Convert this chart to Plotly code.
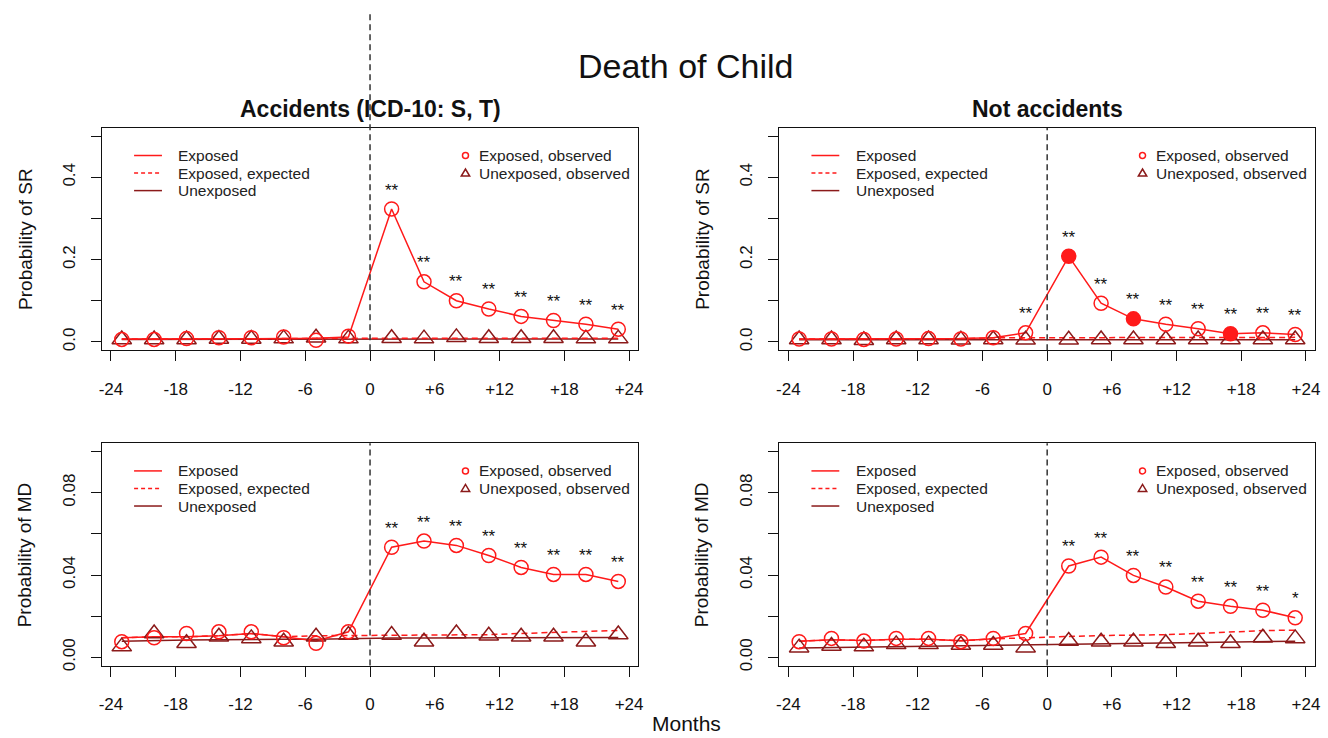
import plotly.graph_objects as go

# ---------------- data ----------------
months = [-23, -20, -17, -14, -11, -8, -5, -2, 2, 5, 8, 11, 14, 17, 20, 23]
tick_vals = [-24, -18, -12, -6, 0, 6, 12, 18, 24]
tick_text = ["-24", "-18", "-12", "-6", "0", "+6", "+12", "+18", "+24"]

# Suicide risk (SR), accidents
sr_acc_exp_obs = [0.006, 0.006, 0.008, 0.010, 0.010, 0.012, 0.004, 0.014,
                  0.323, 0.146, 0.100, 0.080, 0.062, 0.052, 0.043, 0.031]
sr_acc_unexp_obs = [0.006, 0.006, 0.006, 0.007, 0.007, 0.008, 0.010, 0.008,
                    0.009, 0.008, 0.011, 0.009, 0.009, 0.009, 0.008, 0.008]
sr_acc_exp_fit = [0.007, 0.007, 0.007, 0.008, 0.008, 0.008, 0.009, 0.012,
                  0.323, 0.146, 0.100, 0.080, 0.062, 0.052, 0.043, 0.031]
sr_acc_exp_expected = [0.007, 0.007, 0.007, 0.008, 0.008, 0.008, 0.009, 0.009,
                       0.009, 0.009, 0.009, 0.009, 0.009, 0.009, 0.009, 0.009]
sr_acc_unexp_fit = [0.006, 0.006, 0.006, 0.006, 0.007, 0.007, 0.007, 0.007,
                    0.007, 0.007, 0.007, 0.007, 0.007, 0.007, 0.007, 0.007]
sr_acc_filled = [False] * 16
sr_acc_stars = [""] * 8 + ["**"] * 8

# SR, not accidents
sr_nac_exp_obs = [0.007, 0.007, 0.006, 0.007, 0.008, 0.007, 0.010, 0.022,
                  0.208, 0.094, 0.056, 0.043, 0.032, 0.020, 0.022, 0.018]
sr_nac_unexp_obs = [0.006, 0.006, 0.004, 0.006, 0.006, 0.005, 0.006, 0.005,
                    0.005, 0.006, 0.006, 0.006, 0.006, 0.006, 0.006, 0.006]
sr_nac_exp_fit = [0.007, 0.007, 0.007, 0.007, 0.008, 0.008, 0.010, 0.022,
                  0.208, 0.094, 0.056, 0.043, 0.032, 0.020, 0.022, 0.018]
sr_nac_exp_expected = [0.007, 0.007, 0.007, 0.007, 0.008, 0.008, 0.010, 0.010,
                       0.010, 0.010, 0.010, 0.010, 0.011, 0.011, 0.011, 0.011]
sr_nac_unexp_fit = [0.005, 0.005, 0.005, 0.005, 0.005, 0.005, 0.005, 0.005,
                    0.005, 0.005, 0.005, 0.005, 0.005, 0.005, 0.005, 0.005]
sr_nac_filled = [False] * 8 + [True, False, True, False, False, True, False, False]
sr_nac_stars = [""] * 7 + ["**"] * 9

# Mental disorder (MD), accidents
md_acc_exp_obs = [0.0076, 0.0095, 0.0116, 0.0124, 0.0124, 0.0095, 0.0068, 0.0124,
                  0.0535, 0.0565, 0.0544, 0.0495, 0.0437, 0.0403, 0.0403, 0.0369]
md_acc_unexp_obs = [0.0052, 0.0116, 0.0068, 0.0100, 0.0092, 0.0076, 0.0100, 0.0108,
                    0.0108, 0.0076, 0.0116, 0.0105, 0.0100, 0.0100, 0.0076, 0.0111]
md_acc_exp_fit = [0.0095, 0.0100, 0.0100, 0.0105, 0.0116, 0.0100, 0.0079, 0.0124,
                  0.0535, 0.0565, 0.0544, 0.0495, 0.0437, 0.0403, 0.0403, 0.0369]
md_acc_exp_expected = [0.0095, 0.0100, 0.0100, 0.0105, 0.0116, 0.0100, 0.0105, 0.0106,
                       0.0108, 0.0108, 0.0108, 0.0110, 0.0116, 0.0122, 0.0126, 0.0130]
md_acc_unexp_fit = [0.0078, 0.0082, 0.0084, 0.0086, 0.0088, 0.0088, 0.0088, 0.0092,
                    0.0094, 0.0094, 0.0094, 0.0095, 0.0095, 0.0095, 0.0095, 0.0096]
md_acc_filled = [False] * 16
md_acc_stars = [""] * 8 + ["**"] * 8

# MD, not accidents
md_nac_exp_obs = [0.0076, 0.0092, 0.0079, 0.0092, 0.0092, 0.0076, 0.0092, 0.0116,
                  0.0444, 0.0487, 0.0398, 0.0342, 0.0273, 0.0248, 0.0229, 0.0192]
md_nac_unexp_obs = [0.0047, 0.0055, 0.0052, 0.0063, 0.0063, 0.0060, 0.0060, 0.0047,
                    0.0079, 0.0076, 0.0076, 0.0068, 0.0076, 0.0068, 0.0095, 0.0092]
md_nac_exp_fit = [0.0078, 0.0085, 0.0082, 0.0088, 0.0088, 0.0080, 0.0090, 0.0116,
                  0.0444, 0.0487, 0.0398, 0.0342, 0.0273, 0.0248, 0.0229, 0.0192]
md_nac_exp_expected = [0.0078, 0.0085, 0.0082, 0.0088, 0.0088, 0.0080, 0.0090, 0.0095,
                       0.0100, 0.0106, 0.0108, 0.0110, 0.0116, 0.0122, 0.0130, 0.0132]
md_nac_unexp_fit = [0.0045, 0.0047, 0.0049, 0.0051, 0.0053, 0.0055, 0.0057, 0.0059,
                    0.0062, 0.0064, 0.0066, 0.0068, 0.0070, 0.0072, 0.0075, 0.0078]
md_nac_filled = [False] * 16
md_nac_stars = [""] * 8 + ["**"] * 7 + ["*"]

panels = [
    dict(exp_obs=sr_acc_exp_obs, unexp_obs=sr_acc_unexp_obs, exp_fit=sr_acc_exp_fit,
         expected=sr_acc_exp_expected, unexp_fit=sr_acc_unexp_fit, filled=sr_acc_filled,
         stars=sr_acc_stars),
    dict(exp_obs=sr_nac_exp_obs, unexp_obs=sr_nac_unexp_obs, exp_fit=sr_nac_exp_fit,
         expected=sr_nac_exp_expected, unexp_fit=sr_nac_unexp_fit, filled=sr_nac_filled,
         stars=sr_nac_stars),
    dict(exp_obs=md_acc_exp_obs, unexp_obs=md_acc_unexp_obs, exp_fit=md_acc_exp_fit,
         expected=md_acc_exp_expected, unexp_fit=md_acc_unexp_fit, filled=md_acc_filled,
         stars=md_acc_stars),
    dict(exp_obs=md_nac_exp_obs, unexp_obs=md_nac_unexp_obs, exp_fit=md_nac_exp_fit,
         expected=md_nac_exp_expected, unexp_fit=md_nac_unexp_fit, filled=md_nac_filled,
         stars=md_nac_stars),
]

sr_ticks = [0.0, 0.1, 0.2, 0.3, 0.4, 0.5]
sr_ticktext = ["0.0", "", "0.2", "", "0.4", ""]
md_ticks = [0.0, 0.02, 0.04, 0.06, 0.08, 0.10]
md_ticktext = ["0.00", "", "0.04", "", "0.08", ""]

# ---------------- style ----------------
W, H = 1328, 738
FONT = "Liberation Sans, Arial, sans-serif"
RED = "#FF1A1A"
DARK = "#8B1A1A"
LW = 1.5

fig = go.Figure()

def px_x(p):
    return p / W

def px_y(p):
    return 1 - p / H

x_domains = [(px_x(99.5), px_x(639)), (px_x(781), px_x(1320))]
y_domains = [(px_y(353), px_y(129)), (px_y(671), px_y(447))]

for i, p in enumerate(panels):
    n = i + 1
    xa = "x" if n == 1 else f"x{n}"
    ya = "y" if n == 1 else f"y{n}"
    fig.add_trace(go.Scatter(x=months, y=p["unexp_fit"], mode="lines",
                             line=dict(color=DARK, width=LW), xaxis=xa, yaxis=ya,
                             showlegend=False, hoverinfo="skip"))
    fig.add_trace(go.Scatter(x=months, y=p["expected"], mode="lines",
                             line=dict(color=RED, width=LW, dash="6px,4px"),
                             xaxis=xa, yaxis=ya, showlegend=False, hoverinfo="skip"))
    fig.add_trace(go.Scatter(x=months, y=p["exp_fit"], mode="lines",
                             line=dict(color=RED, width=LW), xaxis=xa, yaxis=ya,
                             showlegend=False, hoverinfo="skip"))
    fig.add_trace(go.Scatter(x=months, y=p["unexp_obs"], mode="markers",
                             marker=dict(symbol="triangle-up-open", size=17, color=DARK,
                                         line=dict(width=LW, color=DARK)),
                             xaxis=xa, yaxis=ya, showlegend=False))
    symbols = ["circle" if f else "circle-open" for f in p["filled"]]
    fig.add_trace(go.Scatter(x=months, y=p["exp_obs"], mode="markers",
                             marker=dict(symbol=symbols, size=14, color=RED,
                                         line=dict(width=LW, color=RED)),
                             xaxis=xa, yaxis=ya, showlegend=False))
    for m, v, s in zip(months, p["exp_obs"], p["stars"]):
        if s:
            fig.add_annotation(x=m, y=v, xref=xa, yref=ya, text=s, showarrow=False,
                               yshift=19, yanchor="middle",
                               font=dict(family=FONT, size=17, color="#111"))

    # vertical dashed line at month 0
    if n == 1:
        fig.add_shape(type="line", xref=xa, yref="paper", x0=0, x1=0,
                      y0=y_domains[0][0], y1=px_y(13),
                      line=dict(color="#333", width=1.5, dash="6px,4px"))
    else:
        fig.add_shape(type="line", xref=xa, yref=f"{ya} domain", x0=0, x1=0, y0=0, y1=1,
                      line=dict(color="#333", width=1.5, dash="6px,4px"))

    # legends (drawn inside each panel)
    xd = f"{xa} domain"
    yd = f"{ya} domain"
    rows = [0.876, 0.797, 0.718]
    line_items = [("Exposed", RED, "solid"), ("Exposed, expected", RED, "4px,3px"),
                  ("Unexposed", DARK, "solid")]
    for (lab, col, dsh), ry in zip(line_items, rows):
        fig.add_shape(type="line", xref=xd, yref=yd, x0=0.060, x1=0.112, y0=ry, y1=ry,
                      line=dict(color=col, width=LW, dash=dsh))
        fig.add_annotation(x=0.139, y=ry, xref=xd, yref=yd, text=lab, showarrow=False,
                           xanchor="left", yanchor="middle",
                           font=dict(family=FONT, size=15.5, color="#222"))
    fig.add_shape(type="circle", xref=xd, yref=yd, xsizemode="pixel", ysizemode="pixel",
                  xanchor=0.678, yanchor=rows[0], x0=-3, x1=3, y0=-3, y1=3,
                  line=dict(color=RED, width=1.5))
    fig.add_shape(type="path", xref=xd, yref=yd, xsizemode="pixel", ysizemode="pixel",
                  xanchor=0.678, yanchor=rows[1], path="M -4.2,-3 L 4.2,-3 L 0,4 Z",
                  line=dict(color=DARK, width=1.5))
    for lab, ry in zip(["Exposed, observed", "Unexposed, observed"], rows[:2]):
        fig.add_annotation(x=0.700, y=ry, xref=xd, yref=yd, text=lab, showarrow=False,
                           xanchor="left", yanchor="middle",
                           font=dict(family=FONT, size=15.5, color="#222"))

axis_common = dict(showgrid=False, zeroline=False, showline=True, linecolor="#111",
                   linewidth=1.2, mirror=True, ticks="outside", ticklen=10, tickwidth=1.2,
                   tickcolor="#111", tickfont=dict(family=FONT, size=17, color="#111"))

layout_axes = {}
for i in range(4):
    n = i + 1
    col = i % 2
    row = i // 2
    xk = "xaxis" if n == 1 else f"xaxis{n}"
    yk = "yaxis" if n == 1 else f"yaxis{n}"
    ya_name = "y" if n == 1 else f"y{n}"
    xa_name = "x" if n == 1 else f"x{n}"
    layout_axes[xk] = dict(axis_common, domain=list(x_domains[col]), anchor=ya_name,
                           range=[-24.84, 24.84], tickvals=tick_vals, ticktext=tick_text,
                           ticklabelstandoff=13)
    if row == 0:
        yr, tv, tt = [-0.02, 0.52], sr_ticks, sr_ticktext
    else:
        yr, tv, tt = [-0.004, 0.104], md_ticks, md_ticktext
    layout_axes[yk] = dict(axis_common, domain=list(y_domains[row]), anchor=xa_name,
                           range=yr, tickvals=tv, ticktext=tt, tickangle=-90,
                           ticklabelstandoff=9)

fig.update_layout(**layout_axes)

# titles
fig.add_annotation(x=px_x(687), y=px_y(67), xref="paper", yref="paper",
                   text="Death of Child", showarrow=False, xanchor="center", yanchor="middle",
                   font=dict(family=FONT, size=34, color="#111"))
fig.add_annotation(x=(x_domains[0][0] + x_domains[0][1]) / 2, y=px_y(110), xref="paper",
                   yref="paper", text="<b>Accidents (ICD-10: S, T)</b>", showarrow=False,
                   xanchor="center", yanchor="middle",
                   font=dict(family=FONT, size=23, color="#111"))
fig.add_annotation(x=(x_domains[1][0] + x_domains[1][1]) / 2, y=px_y(110), xref="paper",
                   yref="paper", text="<b>Not accidents</b>", showarrow=False,
                   xanchor="center", yanchor="middle",
                   font=dict(family=FONT, size=23, color="#111"))
for xp, label, yc in [(22, "Probability of SR", (y_domains[0][0] + y_domains[0][1]) / 2),
                      (703, "Probability of SR", (y_domains[0][0] + y_domains[0][1]) / 2),
                      (22, "Probability of MD", (y_domains[1][0] + y_domains[1][1]) / 2),
                      (703, "Probability of MD", (y_domains[1][0] + y_domains[1][1]) / 2)]:
    fig.add_annotation(x=px_x(xp), y=yc, xref="paper", yref="paper", text=label,
                       showarrow=False, textangle=-90, xanchor="center", yanchor="middle",
                       font=dict(family=FONT, size=19, color="#111"))
fig.add_annotation(x=px_x(688), y=px_y(729), xref="paper", yref="paper", text="Months",
                   showarrow=False, xanchor="center", yanchor="middle",
                   font=dict(family=FONT, size=21, color="#111"))

fig.update_layout(width=W, height=H, margin=dict(l=0, r=0, t=0, b=0),
                  paper_bgcolor="white", plot_bgcolor="white", showlegend=False)

fig.write_html("out.html")
